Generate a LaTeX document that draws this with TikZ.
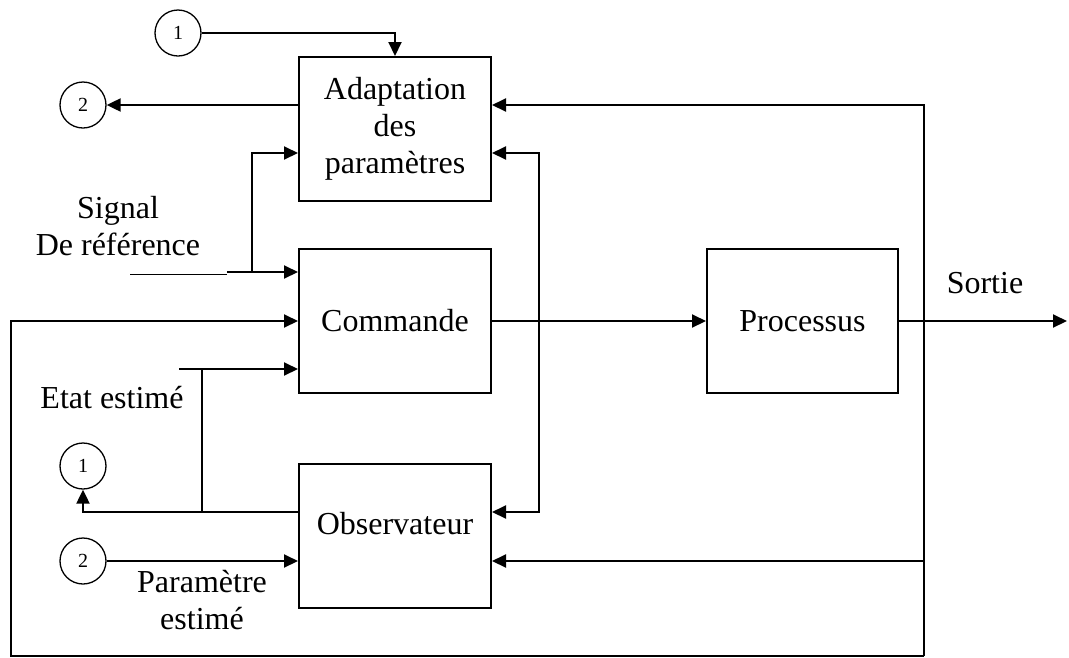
\documentclass[tikz,border=0pt]{standalone}
\usepackage{fontspec}
\setmainfont{Liberation Serif}
\usetikzlibrary{arrows.meta,calc}

\begin{document}
\begin{tikzpicture}[
  x=1pt,
  y=-1pt,
  font=\fontsize{32}{37}\selectfont,
  line/.style={draw=black,line width=2pt},
  thinline/.style={draw=black,line width=0.8pt},
  arrow/.style={line,-{Triangle[length=14pt,width=13pt]}},
  twoarrow/.style={line,{Triangle[length=14pt,width=13pt]}-{Triangle[length=14pt,width=13pt]}},
  block/.style={line,align=center,minimum width=192pt,minimum height=144pt,inner sep=0pt},
  port/.style={draw=black,line width=1.3pt,circle,minimum size=46pt,inner sep=0pt,font=\fontsize{20}{22}\selectfont}
]
\useasboundingbox (0,0) rectangle (1069,657);

% Blocks
\node[block] (adapt) at (395,129) {Adaptation\\des\\paramètres};
\node[block] (cmd) at (395,321) {Commande};
\node[block,text depth=26pt] (obs) at (395,536) {Observateur};
\node[block,minimum width=191pt] (proc) at (802.5,321) {Processus};

% Ports
\node[port] (p1a) at (178,33) {1};
\node[port] (p2a) at (83,105) {2};
\node[port] (p1b) at (83,466) {1};
\node[port] (p2b) at (83,561) {2};

% Labels
\node[align=center] (sigref) at (118,226) {Signal\\De référence};
\node (etatlab) at (112,398) {Etat estimé};
\node[align=center] (paramlab) at (202,600) {Paramètre\\estimé};
\node (sortie) at (985,283) {Sortie};

% Helper points
\coordinate (refin) at (130,274);
\coordinate (refjoin) at (227,274);
\coordinate (refbr) at (252,272);
\coordinate (etatin) at (179,369);
\coordinate (etatbr) at (202,369);
\coordinate (etatbot) at (202,512);
\coordinate (fbR) at (924,656);
\coordinate (fbL) at (11,656);
\coordinate (out) at (1067,321);

% Main path
\draw[arrow] (cmd.east) -- (proc.west);
\draw[arrow] (proc.east) -- (out);

% Ports to and from adaptation
\draw[arrow] (p1a.east) -| (adapt.north);
\draw[arrow] (p2a -| adapt.west) -- (p2a.east);

% Reference signal
\draw[thinline] (refin) -- (refjoin);
\draw[arrow] (refjoin |- refbr) -- (refjoin |- refbr -| cmd.west);
\draw[arrow] (refbr) |- ([yshift=-24pt]adapt.west);

% Estimated state
\draw[arrow] (etatin) -- (etatin -| cmd.west);
\draw[line] (etatbr) -- (etatbot);
\draw[arrow] ([yshift=24pt]obs.west) -| (p1b.south);
\draw[arrow] (p2b.east) -- (p2b -| obs.west);

% Adaptation <-> observer
\draw[twoarrow] ([yshift=-24pt]adapt.east) -- ++(47,0) |- ([yshift=24pt]obs.east);

% Output feedback loop
\draw[arrow] (fbR) |- ([yshift=24pt]adapt.east);
\draw[arrow] (fbR |- p2b) -- (p2b -| obs.east);
\draw[arrow] (fbR) -- (fbL) |- (cmd.west);

\end{tikzpicture}
\end{document}
